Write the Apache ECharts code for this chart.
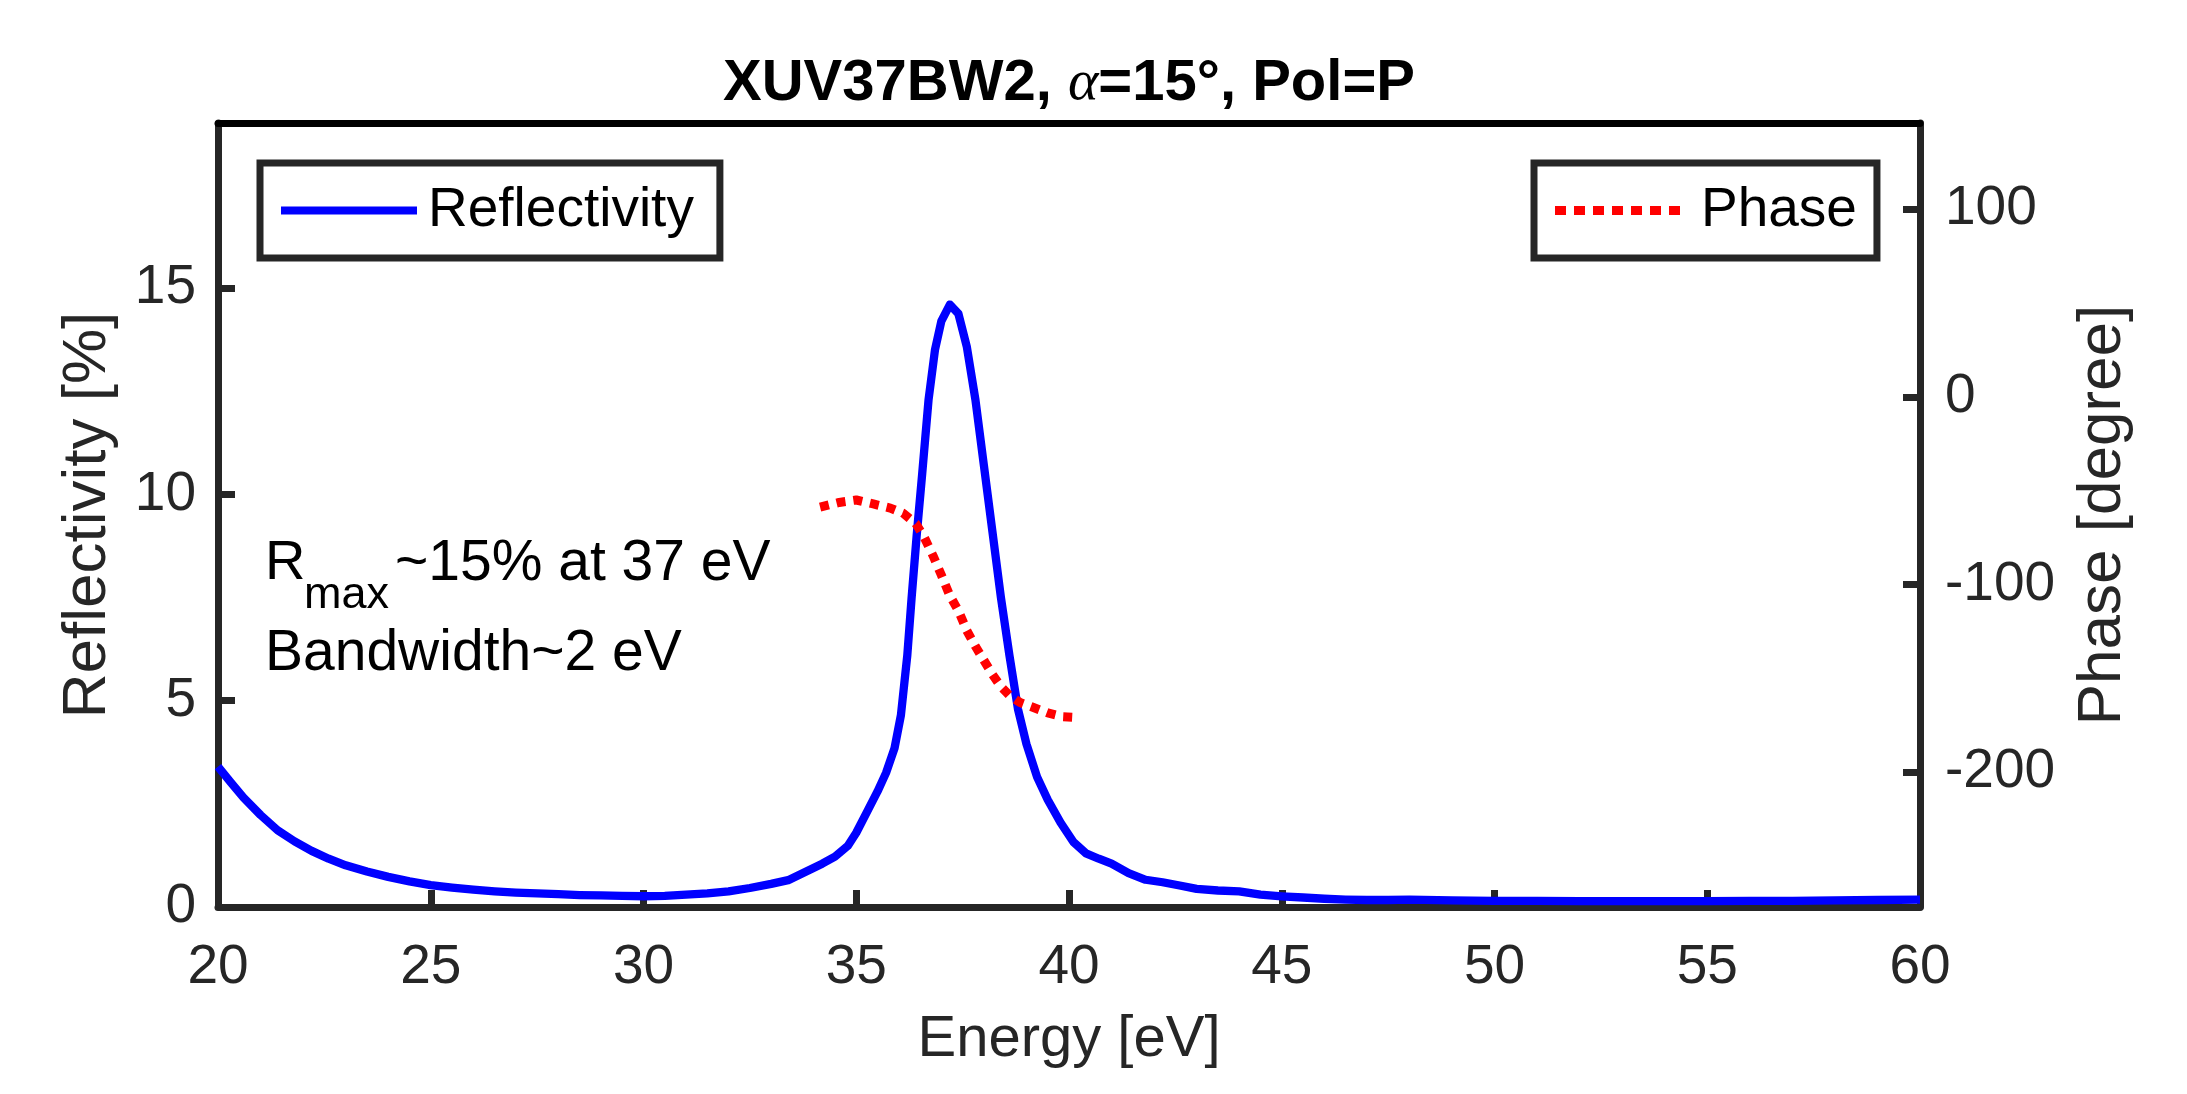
<!DOCTYPE html>
<html>
<head>
<meta charset="utf-8">
<script src="https://cdn.jsdelivr.net/npm/echarts@6/dist/echarts.min.js"></script>
<style>
html,body{margin:0;padding:0;background:#fff;}
#chart{width:2187px;height:1094px;}
</style>
</head>
<body>
<div id="chart"></div>
<script>
// ---- data ----
const energy = [20,20.3,20.6,21.0,21.4,21.8,22.2,22.6,23.0,23.5,24.0,24.5,25.0,25.5,26.0,26.5,27.0,27.5,28.0,28.5,29.0,29.5,30.0,30.5,31.0,31.5,32.0,32.5,33.0,33.4,33.8,34.2,34.5,34.8,35.0,35.25,35.5,35.7,35.9,36.05,36.2,36.3,36.42,36.55,36.7,36.85,37.0,37.2,37.4,37.6,37.8,38.0,38.2,38.4,38.6,38.8,39.0,39.25,39.5,39.8,40.1,40.4,40.7,41.0,41.4,41.8,42.2,42.6,43.0,43.5,44.0,44.5,45.0,45.5,46.0,46.5,47,47.5,48,49,50,51,52,53,54,55,56,57,58,59,60];
const reflectivity = [3.40,3.02,2.65,2.23,1.86,1.59,1.36,1.17,1.01,0.86,0.73,0.62,0.53,0.47,0.42,0.38,0.35,0.33,0.31,0.29,0.28,0.27,0.26,0.27,0.30,0.33,0.38,0.46,0.56,0.65,0.85,1.05,1.22,1.48,1.80,2.30,2.80,3.25,3.85,4.65,6.10,7.48,9.0,10.5,12.3,13.5,14.2,14.6,14.38,13.57,12.3,10.7,9.1,7.5,6.1,4.8,3.95,3.15,2.6,2.05,1.58,1.30,1.17,1.05,0.82,0.66,0.60,0.52,0.44,0.40,0.38,0.30,0.26,0.23,0.20,0.18,0.17,0.17,0.18,0.16,0.15,0.15,0.14,0.14,0.14,0.14,0.15,0.15,0.16,0.17,0.18];
const phaseEnergy = [34.15,34.6,35.0,35.4,35.8,36.1,36.4,36.6,36.8,37.0,37.2,37.4,37.6,37.8,38.0,38.2,38.4,38.6,38.85,39.15,39.5,39.85,40.25];
const phase = [-58.8,-56.3,-55.0,-57.1,-59.3,-62.0,-67.6,-75,-84.5,-95,-106,-114,-124.7,-133,-140.5,-148,-154.5,-159.2,-163,-165.5,-168.5,-170.5,-171];
const xTicks = [20,25,30,35,40,45,50,55,60];
const leftTicks = [0,5,10,15];
const rightTicks = [-200,-100,0,100];
const seriesNames = ['Reflectivity','Phase'];

const FONT = 'Liberation Sans';
const AX = '#262626';
const DOTTED_ICON = 'path://M0,0h11v9h-11z M19,0h11v9h-11z M38,0h11v9h-11z M57,0h11v9h-11z M76,0h11v9h-11z M95,0h11v9h-11z M114,0h11v9h-11z';

const chart = echarts.init(document.getElementById('chart'), null, {renderer:'canvas'});
const legendBase = {
  orient: 'horizontal', top: 163,
  borderColor: AX, borderWidth: 7, backgroundColor: '#fff', borderRadius: 0,
  selectedMode: false
};
const option = {
  animation: false,
  backgroundColor: '#fff',
  textStyle: {fontFamily: FONT},
  grid: {left: 218, right: 267, top: 123, bottom: 187, containLabel: false, outerBoundsMode: 'none'},
  xAxis: [{
    type: 'value', min: 20, max: 60, interval: 5, position: 'bottom',
    name: 'Energy [eV]', nameLocation: 'middle', nameGap: 104,
    nameTextStyle: {fontSize: 58, color: AX, fontFamily: FONT},
    axisLine: {show: true, onZero: false, lineStyle: {color: AX, width: 7}},
    axisTick: {show: true, inside: true, length: 17, lineStyle: {color: AX, width: 7}, customValues: xTicks},
    axisLabel: {show: true, margin: 33, fontSize: 55, color: AX, fontFamily: FONT, customValues: xTicks},
    splitLine: {show: false}
  },{
    type: 'value', min: 20, max: 60, position: 'top',
    axisLine: {show: true, onZero: false, lineStyle: {color: '#000', width: 7}},
    axisTick: {show: false}, axisLabel: {show: false}, splitLine: {show: false}
  }],
  yAxis: [{
    type: 'value', min: 0, max: 19, position: 'left',
    name: 'Reflectivity [%]', nameLocation: 'middle', nameGap: 99,
    nameTextStyle: {fontSize: 62, color: AX, fontFamily: FONT},
    axisLine: {show: true, onZero: false, lineStyle: {color: AX, width: 7}},
    axisTick: {show: true, inside: true, length: 17, lineStyle: {color: AX, width: 7}, customValues: leftTicks},
    axisLabel: {show: true, margin: 22, fontSize: 55, color: AX, fontFamily: FONT, customValues: leftTicks},
    splitLine: {show: false}
  },{
    type: 'value', min: -272, max: 146, position: 'right',
    name: 'Phase [degree]', nameLocation: 'middle', nameGap: 152,
    nameTextStyle: {fontSize: 62, color: AX, fontFamily: FONT},
    axisLine: {show: true, onZero: false, lineStyle: {color: AX, width: 7}},
    axisTick: {show: true, inside: true, length: 17, lineStyle: {color: AX, width: 7}, customValues: rightTicks},
    axisLabel: {show: true, margin: 25, fontSize: 55, color: AX, fontFamily: FONT, customValues: rightTicks},
    splitLine: {show: false}
  }],
  legend: [Object.assign({}, legendBase, {
    data: [{name: seriesNames[0], icon: 'rect'}], left: 260,
    padding: [20, 26, 20, 21], itemWidth: 136, itemHeight: 8,
    textStyle: {fontSize: 55, color: '#000', fontFamily: FONT, padding: [0,0,0,6]}
  }), Object.assign({}, legendBase, {
    data: [{name: seriesNames[1], icon: DOTTED_ICON}], left: 1534,
    padding: [20, 20, 20, 21], itemWidth: 125, itemHeight: 9,
    textStyle: {fontSize: 55, color: '#000', fontFamily: FONT, padding: [0,0,0,16]}
  })],
  series: [{
    name: seriesNames[0], type: 'line', xAxisIndex: 0, yAxisIndex: 0,
    data: energy.map((e,i)=>[e, reflectivity[i]]),
    symbol: 'none', showSymbol: false, smooth: false,
    lineStyle: {color: '#0000ff', width: 8.3, join: 'round'},
    itemStyle: {color: '#0000ff'}, z: 3
  },{
    name: seriesNames[1], type: 'line', xAxisIndex: 0, yAxisIndex: 1,
    data: phaseEnergy.map((e,i)=>[e, phase[i]]),
    symbol: 'none', showSymbol: false, smooth: false,
    lineStyle: {color: '#ff0000', width: 9, type: [9, 8], cap: 'butt'},
    itemStyle: {color: '#ff0000'}, z: 4
  }],
  graphic: [
    {type: 'text', x: 1069, y: 84, style: {
      text: '{b|XUV37BW2, }{a|α}{b|=15°, Pol=P}',
      align: 'center', verticalAlign: 'middle',
      rich: {
        b: {fontSize: 58, fontWeight: 'bold', fontFamily: FONT, fill: '#000', color: '#000'},
        a: {fontSize: 58, fontStyle: 'italic', fontFamily: 'Liberation Serif', fill: '#000', color: '#000'}
      }
    }},
    {type: 'text', x: 265, y: 564, style: {text: 'R', fontSize: 56, fontFamily: FONT, fill: '#000', align: 'left', verticalAlign: 'middle'}},
    {type: 'text', x: 304, y: 596, style: {text: 'max', fontSize: 45, fontFamily: FONT, fill: '#000', align: 'left', verticalAlign: 'middle'}},
    {type: 'text', x: 395, y: 564, style: {text: '~15% at 37 eV', fontSize: 57, fontFamily: FONT, fill: '#000', align: 'left', verticalAlign: 'middle'}},
    {type: 'text', x: 265, y: 654, style: {text: 'Bandwidth~2 eV', fontSize: 57, fontFamily: FONT, fill: '#000', align: 'left', verticalAlign: 'middle'}}
  ]
};
chart.setOption(option);
</script>
</body>
</html>
